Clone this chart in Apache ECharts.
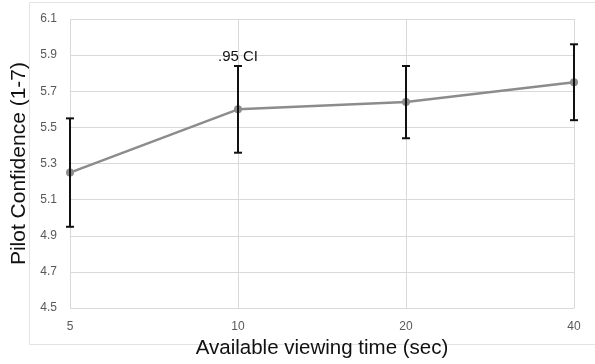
<!DOCTYPE html>
<html>
<head>
<meta charset="utf-8">
<script src="https://cdn.jsdelivr.net/npm/echarts@6/dist/echarts.min.js"></script>
<style>
html, body { margin: 0; padding: 0; background: #fff; }
#chart { width: 595px; height: 364px; }
</style>
</head>
<body>
<div id="chart"></div>
<script>
// viewing time categories and mean confidence
var times = ['5', '10', '20', '40'];
var meanConf = [5.25, 5.60, 5.64, 5.75];
// .95 confidence interval bounds
var ciLow = [4.95, 5.36, 5.44, 5.54];
var ciHigh = [5.55, 5.84, 5.84, 5.96];
var ciLabel = '.95 CI';
var ciLabelIndex = 1;

var errData = times.map(function (t, i) {
	return [i, ciLow[i], ciHigh[i]];
});

var chart = echarts.init(document.getElementById('chart'));

var option = {
	animation: false,
	backgroundColor: '#fff',
	textStyle: { fontFamily: 'Liberation Sans' },
	graphic: [{
		type: 'rect',
		shape: { x: 29.5, y: 2.5, width: 600, height: 342 },
		style: { fill: 'none', stroke: '#e3e3e3', lineWidth: 1 },
		silent: true
	}],
	grid: { left: 70, right: 21, top: 19, bottom: 54 },
	xAxis: {
		type: 'category',
		data: times,
		boundaryGap: false,
		name: 'Available viewing time (sec)',
		nameLocation: 'middle',
		nameGap: 29,
		nameTextStyle: { fontSize: 20.5, color: '#111' },
		axisLine: { show: false },
		axisTick: { show: false },
		axisLabel: { color: '#595959', fontSize: 12, margin: 13 },
		splitLine: { show: true, lineStyle: { color: '#d9d9d9', width: 1 } }
	},
	yAxis: {
		type: 'value',
		min: 4.5,
		max: 6.1,
		interval: 0.2,
		name: 'Pilot Confidence (1-7)',
		nameLocation: 'middle',
		nameGap: 37,
		nameTextStyle: { fontSize: 21, color: '#111' },
		axisLine: { show: false },
		axisTick: { show: false },
		axisLabel: {
			color: '#595959',
			fontSize: 12,
			margin: 13,
			formatter: function (v) { return v.toFixed(1); }
		},
		splitLine: { lineStyle: { color: '#d9d9d9', width: 1 } }
	},
	series: [
		{
			type: 'line',
			data: meanConf,
			symbol: 'circle',
			symbolSize: 8,
			lineStyle: { color: '#8c8c8c', width: 2.5 },
			itemStyle: { color: '#8c8c8c' },
			z: 2
		},
		{
			type: 'custom',
			data: errData,
			z: 3,
			renderItem: function (params, api) {
				var x = api.value(0);
				var lo = api.coord([x, api.value(1)]);
				var hi = api.coord([x, api.value(2)]);
				var cap = 4;
				var st = { stroke: '#111', lineWidth: 2 };
				var kids = [
					{ type: 'line', shape: { x1: lo[0], y1: lo[1], x2: hi[0], y2: hi[1] }, style: st },
					{ type: 'line', shape: { x1: hi[0] - cap, y1: hi[1], x2: hi[0] + cap, y2: hi[1] }, style: st },
					{ type: 'line', shape: { x1: lo[0] - cap, y1: lo[1], x2: lo[0] + cap, y2: lo[1] }, style: st }
				];
				if (params.dataIndex === ciLabelIndex) {
					kids.push({
						type: 'text',
						style: {
							text: ciLabel,
							x: hi[0],
							y: hi[1] - 9,
							align: 'center',
							verticalAlign: 'middle',
							fill: '#111',
							font: '15px "Liberation Sans"'
						}
					});
				}
				return { type: 'group', children: kids };
			}
		}
	]
};

chart.setOption(option);
</script>
</body>
</html>
